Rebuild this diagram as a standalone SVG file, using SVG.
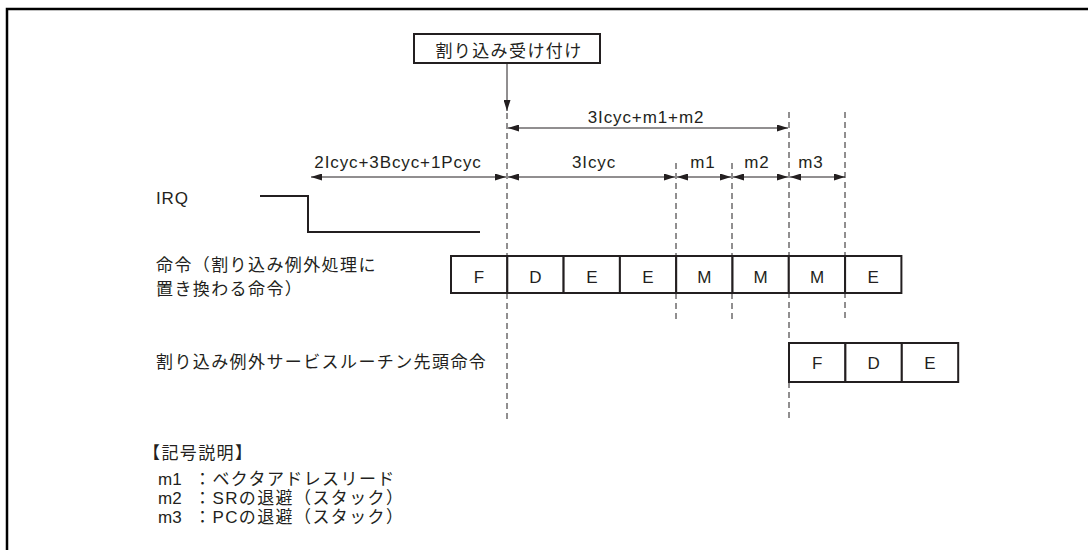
<svg xmlns="http://www.w3.org/2000/svg" width="1088" height="550" viewBox="0 0 1088 550">
<style>
  .lat { font-family: "Liberation Sans", Arial, sans-serif; font-size: 17px; fill: #231f20; }
  .sp { letter-spacing: 0.9px; }
  .jp { font-family: "Liberation Sans", "Noto Sans CJK JP", sans-serif; font-size: 17px; letter-spacing: 1.4px; fill: #231f20; }
  .mid { text-anchor: middle; }
  .cell { fill: #fff; stroke: #231f20; stroke-width: 2; }
  .dash { stroke: #231f20; stroke-width: 1; stroke-dasharray: 6 4; fill: none; }
  .dim { stroke: #231f20; stroke-width: 1; fill: none; }
  .thick { stroke: #231f20; stroke-width: 2; fill: none; }
</style>
<defs>
  <marker id="ah" viewBox="0 0 11 7" refX="11" refY="3.5" markerWidth="11" markerHeight="7" markerUnits="userSpaceOnUse" orient="auto-start-reverse">
    <path d="M0,0 L11,3.5 L0,7 Z" fill="#231f20"/>
  </marker>
</defs>
<rect width="1088" height="550" fill="#fff"/>
<g id="frame">
  <path d="M7,550 V9 H1088" stroke="#000" stroke-width="2.5" fill="none"/>
</g>

<g id="connectors">
  <line class="dim" x1="507" y1="63" x2="507" y2="111" marker-end="url(#ah)"/>
  <line class="dash" x1="507" y1="113" x2="507" y2="420"/>
  <line class="dash" x1="676" y1="163" x2="676" y2="319"/>
  <line class="dash" x1="732" y1="163" x2="732" y2="319"/>
  <line class="dash" x1="789" y1="112" x2="789" y2="420"/>
  <line class="dash" x1="845" y1="112" x2="845" y2="319"/>
  <line class="dim" x1="508" y1="128" x2="788" y2="128" marker-start="url(#ah)" marker-end="url(#ah)"/>
  <line class="dim" x1="311" y1="177" x2="506" y2="177" marker-start="url(#ah)" marker-end="url(#ah)"/>
  <line class="dim" x1="508" y1="177" x2="675" y2="177" marker-start="url(#ah)" marker-end="url(#ah)"/>
  <line class="dim" x1="677" y1="177" x2="731" y2="177" marker-start="url(#ah)" marker-end="url(#ah)"/>
  <line class="dim" x1="733" y1="177" x2="788" y2="177" marker-start="url(#ah)" marker-end="url(#ah)"/>
  <line class="dim" x1="790" y1="177" x2="845" y2="177" marker-start="url(#ah)" marker-end="url(#ah)"/>
</g>

<g id="accept">
  <rect x="414" y="34" width="186" height="29" class="cell"/>
  <text class="jp mid" x="509" y="57">割り込み受け付け</text>
</g>

<g id="dim-labels">
  <text class="lat sp mid" x="646" y="123">3Icyc+m1+m2</text>
  <text class="lat sp mid" x="398" y="168">2Icyc+3Bcyc+1Pcyc</text>
  <text class="lat sp mid" x="594" y="168">3Icyc</text>
  <text class="lat sp mid" x="703" y="168">m1</text>
  <text class="lat sp mid" x="757" y="168">m2</text>
  <text class="lat sp mid" x="811" y="168">m3</text>
</g>

<g id="irq">
  <text class="lat sp" x="156" y="204">IRQ</text>
  <polyline class="thick" points="260,196 308,196 308,232 480,232"/>
</g>

<g id="instr-label">
  <text class="jp" x="156" y="271">命令（割り込み例外処理に</text>
  <text class="jp" x="156" y="295">置き換わる命令）</text>
</g>

<g id="instr-row">
  <rect class="cell" x="451" y="256" width="56.3" height="37"/>
  <rect class="cell" x="507.3" y="256" width="56.3" height="37"/>
  <rect class="cell" x="563.6" y="256" width="56.3" height="37"/>
  <rect class="cell" x="619.9" y="256" width="56.3" height="37"/>
  <rect class="cell" x="676.2" y="256" width="56.3" height="37"/>
  <rect class="cell" x="732.5" y="256" width="56.3" height="37"/>
  <rect class="cell" x="788.8" y="256" width="56.3" height="37"/>
  <rect class="cell" x="845.1" y="256" width="56.3" height="37"/>
  <text class="lat mid" x="479" y="283">F</text>
  <text class="lat mid" x="535.5" y="283">D</text>
  <text class="lat mid" x="591.8" y="283">E</text>
  <text class="lat mid" x="648" y="283">E</text>
  <text class="lat mid" x="704.4" y="283">M</text>
  <text class="lat mid" x="760.6" y="283">M</text>
  <text class="lat mid" x="817" y="283">M</text>
  <text class="lat mid" x="873.2" y="283">E</text>
</g>

<g id="isr-label">
  <text class="jp" x="156" y="368">割り込み例外サービスルーチン先頭命令</text>
</g>

<g id="isr-row">
  <rect class="cell" x="789" y="343" width="56.4" height="39"/>
  <rect class="cell" x="845.4" y="343" width="56.4" height="39"/>
  <rect class="cell" x="901.8" y="343" width="56.4" height="39"/>
  <text class="lat mid" x="817.2" y="369">F</text>
  <text class="lat mid" x="873.6" y="369">D</text>
  <text class="lat mid" x="930" y="369">E</text>
</g>

<g id="legend">
  <text class="jp" x="143" y="459">【記号説明】</text>
  <text class="lat" x="158" y="485">m1</text>
  <text class="jp" x="194" y="485">：ベクタアドレスリード</text>
  <text class="lat" x="158" y="504">m2</text>
  <text class="jp" x="194" y="504">：SRの退避（スタック）</text>
  <text class="lat" x="158" y="523">m3</text>
  <text class="jp" x="194" y="523">：PCの退避（スタック）</text>
</g>
</svg>
